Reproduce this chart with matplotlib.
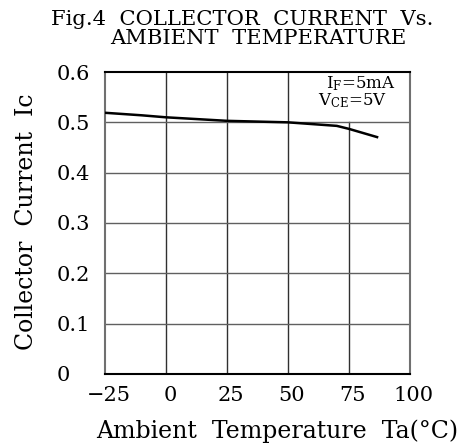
import numpy as np
import matplotlib
matplotlib.use("Agg")
import matplotlib.pyplot as plt
import matplotlib.transforms as mtransforms

plt.rcParams['font.family'] = ['DejaVu Serif']
plt.rcParams['mathtext.fontset'] = 'dejavuserif'

# ===== 数据 =====
temp = [-25, -10, 0, 25, 50, 70, 75, 87]
ic = [0.519, 0.514, 0.510, 0.503, 0.500, 0.493, 0.487, 0.470]

x_ticks = [-25, 0, 25, 50, 75, 100]
x_ticklabels = ['\u221225', '0', '25', '50', '75', '100']
y_ticks = [0, 0.1, 0.2, 0.3, 0.4, 0.5, 0.6]
y_ticklabels = ['0', '0.1', '0.2', '0.3', '0.4', '0.5', '0.6']

fig = plt.figure(figsize=(4.66, 4.44), dpi=100)
ax = fig.add_axes([0.2253, 0.1577, 0.6545, 0.6801])

ax.plot(temp, ic, color='black', lw=1.8, solid_capstyle='butt', zorder=3)

ax.set_xlim(-25, 100)
ax.set_ylim(0, 0.6)
ax.set_xticks(x_ticks)
ax.set_xticklabels(x_ticklabels, fontsize=15)
ax.set_yticks(y_ticks)
ax.set_yticklabels(y_ticklabels, fontsize=15)
ax.tick_params(length=0)
ax.tick_params(axis='x', pad=9)
ax.tick_params(axis='y', pad=35)
for lab in ax.get_yticklabels():
    lab.set_horizontalalignment('left')
shift = mtransforms.ScaledTranslation(0.04, 0, fig.dpi_scale_trans)
for lab in ax.get_xticklabels():
    lab.set_transform(lab.get_transform() + shift)

# 网格（75℃那条竖线只画到0.5，上面留给条件说明）
ax.axvline(0, color='#303030', lw=1.0, zorder=1)
ax.axvline(25, color='#303030', lw=1.0, zorder=1)
ax.axvline(50, color='#303030', lw=1.0, zorder=1)
ax.axvline(75, ymax=0.5 / 0.6, color='#303030', lw=1.0, zorder=1)
for yv in y_ticks[1:-1]:
    ax.axhline(yv, color='#606060', lw=1.0, zorder=1)

ax.spines['top'].set_color('black')
ax.spines['bottom'].set_color('black')
ax.spines['left'].set_color('#707070')
ax.spines['right'].set_color('#707070')
for s in ax.spines.values():
    s.set_linewidth(1.5)

ax.text(0.725, 0.993, r'I$_\mathregular{F}$=5mA', transform=ax.transAxes,
        fontsize=12, ha='left', va='top')
ax.text(0.70, 0.935, r'V$_\mathregular{CE}$=5V', transform=ax.transAxes,
        fontsize=12, ha='left', va='top')

ax.set_ylabel('Collector  Current  Ic', fontsize=17)
ax.yaxis.set_label_coords(-0.22, 0.505)

fig.text(277 / 466, 6 / 444, 'Ambient  Temperature  Ta(\u00b0C)',
         fontsize=17, ha='center', va='baseline')
fig.text(242 / 466, (444 - 25) / 444, 'Fig.4  COLLECTOR  CURRENT  Vs.',
         fontsize=15.2, ha='center', va='baseline')
fig.text(258 / 466, (444 - 43.5) / 444, 'AMBIENT  TEMPERATURE',
         fontsize=15.2, ha='center', va='baseline')

fig.savefig('out.png', dpi=100)
